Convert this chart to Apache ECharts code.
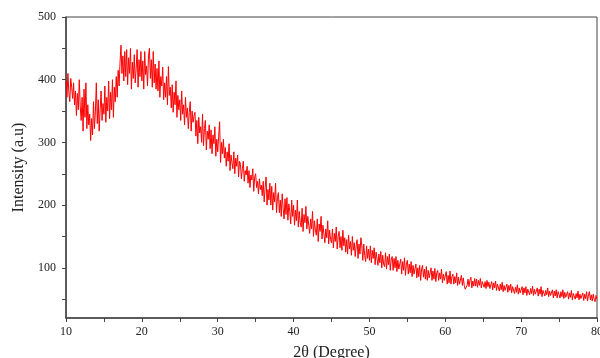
<!DOCTYPE html>
<html>
<head>
<meta charset="utf-8">
<script src="https://cdn.jsdelivr.net/npm/echarts@6/dist/echarts.min.js"></script>
<style>
html,body{margin:0;padding:0;background:#fff;}
#chart{width:600px;height:358px;}
</style>
</head>
<body>
<div id="chart"></div>
<script>
// 2θ sampling grid (degrees)
var angleStart = 10;
var angleStep = 0.125;
// Intensity, 8 samples per degree, last one at 80
var intensity = [
  398, 372, 410, 380, 365, 402, 388, 370,   // 10
  395, 360, 382, 343, 378, 352, 400, 358,   // 11
  335, 372, 318, 385, 340, 395, 322, 360,   // 12
  328, 345, 303, 338, 312, 365, 322, 350,   // 13
  395, 330, 368, 318, 352, 382, 335, 362,   // 14
  345, 390, 332, 372, 350, 398, 338, 380,   // 15
  352, 400, 340, 388, 365, 405, 372, 415,   // 16
  390, 428, 455, 410, 438, 398, 445, 405,   // 17
  448, 392, 435, 410, 450, 385, 428, 402,   // 18
  440, 395, 418, 448, 388, 432, 405, 445,   // 19
  398, 430, 385, 445, 408, 422, 390, 438,   // 20
  450, 402, 432, 388, 445, 395, 425, 385,   // 21
  418, 382, 430, 372, 405, 390, 420, 368,   // 22
  395, 372, 405, 360, 421, 375, 388, 355,   // 23
  392, 348, 380, 360, 398, 340, 375, 352,   // 24
  368, 335, 382, 345, 360, 328, 372, 340,   // 25
  355, 322, 348, 365, 318, 350, 332, 342,   // 26
  348, 310, 335, 298, 340, 315, 325, 300,   // 27
  345, 295, 322, 335, 288, 318, 305, 328,   // 28
  290, 320, 282, 312, 298, 325, 278, 305,   // 29
  285, 310, 333, 268, 300, 282, 305, 275,   // 30
  292, 262, 285, 270, 298, 255, 280, 268,   // 31
  258, 285, 250, 275, 262, 280, 245, 270,   // 32
  265, 242, 258, 270, 238, 255, 248, 262,   // 33
  235, 255, 228, 248, 240, 258, 222, 245,   // 34
  250, 228, 238, 218, 242, 225, 232, 215,   // 35
  238, 205, 228, 245, 200, 225, 208, 235,   // 36
  200, 230, 192, 220, 205, 235, 188, 212,   // 37
  220, 188, 208, 182, 218, 195, 178, 210,   // 38
  185, 212, 176, 202, 190, 170, 208, 182,   // 39
  200, 168, 192, 175, 208, 165, 190, 172,   // 40
  165, 195, 158, 185, 172, 198, 162, 182,   // 41
  182, 155, 178, 162, 190, 150, 175, 160,   // 42
  152, 178, 142, 170, 158, 182, 146, 168,   // 43
  168, 140, 162, 148, 175, 138, 160, 145,   // 44
  140, 162, 132, 155, 142, 165, 130, 150,   // 45
  158, 132, 150, 128, 160, 135, 148, 125,   // 46
  145, 122, 152, 130, 142, 120, 150, 128,   // 47
  140, 118, 135, 145, 115, 138, 122, 148,   // 48
  135, 112, 138, 120, 110, 135, 115, 130,   // 49
  112, 135, 108, 128, 115, 132, 105, 125,   // 50
  128, 104, 122, 108, 126, 100, 120, 106,   // 51
  102, 124, 98, 118, 105, 122, 96, 114,     // 52
  118, 96, 115, 100, 118, 94, 112, 98,      // 53
  95, 114, 90, 110, 96, 116, 88, 106,       // 54
  112, 90, 106, 92, 110, 86, 104, 90,       // 55
  88, 106, 84, 100, 86, 104, 80, 98,        // 56
  104, 85, 98, 82, 102, 80, 96, 84,         // 57
  84, 100, 80, 95, 82, 99, 78, 92,          // 58
  96, 80, 92, 82, 98, 76, 90, 80,           // 59
  78, 94, 74, 88, 76, 95, 74, 86,           // 60
  90, 74, 86, 76, 92, 72, 85, 74,           // 61
  76, 88, 72, 84, 72, 66, 63, 72,           // 62
  82, 70, 80, 85, 68, 79, 71, 83,           // 63
  71, 82, 69, 80, 72, 83, 68, 78,           // 64
  80, 69, 78, 67, 80, 70, 77, 67,           // 65
  67, 78, 65, 76, 68, 79, 64, 74,           // 66
  76, 63, 74, 65, 77, 62, 72, 64,           // 67
  63, 74, 61, 72, 64, 74, 60, 70,           // 68
  71, 59, 69, 61, 73, 58, 68, 60,           // 69
  59, 70, 57, 68, 60, 70, 56, 66,           // 70
  69, 57, 67, 59, 71, 56, 66, 58,           // 71
  57, 68, 55, 66, 58, 70, 54, 64,           // 72
  66, 55, 64, 57, 68, 54, 63, 56,           // 73
  54, 65, 52, 63, 55, 65, 52, 62,           // 74
  63, 52, 62, 54, 65, 51, 61, 53,           // 75
  52, 62, 50, 60, 53, 64, 49, 59,           // 76
  61, 50, 59, 52, 63, 49, 58, 51,           // 77
  50, 60, 48, 58, 51, 62, 47, 57,           // 78
  62, 49, 57, 47, 58, 50, 46, 56,           // 79
  50                                        // 80
];
var xTickValues = [10, 15, 20, 25, 30, 35, 40, 45, 50, 55, 60, 65, 70, 75, 80];
var xLabelValues = [10, 20, 30, 40, 50, 60, 70, 80];
var yTickValues = [50, 100, 150, 200, 250, 300, 350, 400, 450, 500];
var yLabelValues = [100, 200, 300, 400, 500];

var points = intensity.map(function (v, i) {
  return [+(angleStart + i * angleStep).toFixed(3), v];
});

var chart = echarts.init(document.getElementById('chart'), null, {renderer: 'canvas'});
var font = '"Liberation Serif", "Times New Roman", serif';
chart.setOption({
  animation: false,
  backgroundColor: '#fff',
  grid: {
    left: 66, right: 3, top: 17, bottom: 40,
    outerBoundsMode: 'none', containLabel: false,
    show: true, borderColor: '#444', borderWidth: 1, backgroundColor: 'transparent'
  },
  xAxis: {
    type: 'value', min: 10, max: 80,
    name: '2θ (Degree)', nameLocation: 'middle', nameGap: 27,
    nameTextStyle: {fontFamily: font, fontSize: 16, color: '#222'},
    axisLine: {show: true, onZero: false, lineStyle: {color: '#444', width: 1.5}},
    axisTick: {show: true, inside: false, length: 4, customValues: xTickValues, lineStyle: {color: '#444'}},
    axisLabel: {customValues: xLabelValues, margin: 8, fontFamily: font, fontSize: 12, color: '#222'},
    splitLine: {show: false}
  },
  yAxis: {
    type: 'value', min: 20, max: 500,
    name: 'Intensity (a.u)', nameLocation: 'middle', nameGap: 38,
    nameTextStyle: {fontFamily: font, fontSize: 16, color: '#222'},
    axisLine: {show: true, onZero: false, lineStyle: {color: '#444', width: 1.5}},
    axisTick: {show: true, inside: false, length: 4, customValues: yTickValues, lineStyle: {color: '#444'}},
    axisLabel: {customValues: yLabelValues, margin: 10, fontFamily: font, fontSize: 12, color: '#222'},
    splitLine: {show: false}
  },
  series: [{
    type: 'line',
    data: points,
    showSymbol: false,
    sampling: null,
    lineStyle: {color: '#ff0000', width: 1},
    itemStyle: {color: '#ff0000'}
  }]
});
</script>
</body>
</html>
